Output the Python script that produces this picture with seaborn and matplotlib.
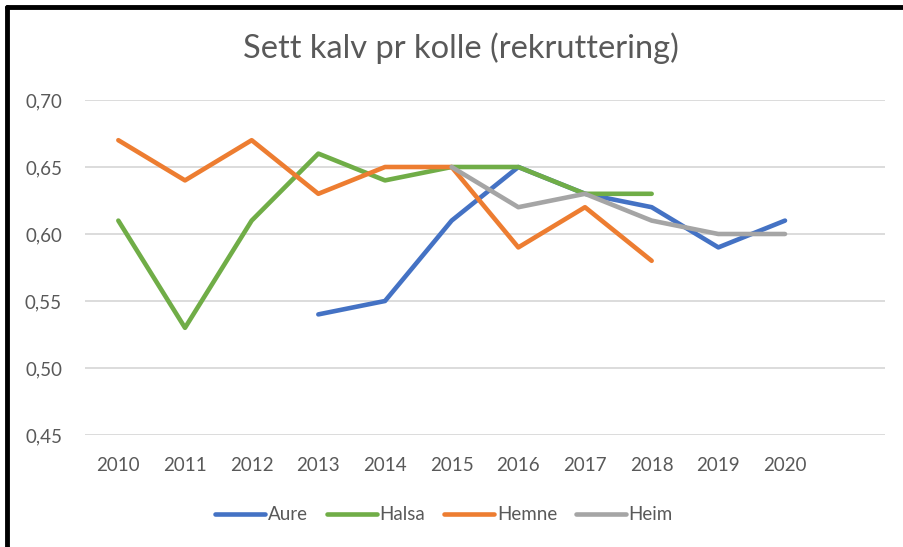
import numpy as np
import pandas as pd
import matplotlib
matplotlib.use("Agg")
import matplotlib.pyplot as plt
import seaborn as sns
from matplotlib.lines import Line2D

years = ["2010", "2011", "2012", "2013", "2014", "2015", "2016", "2017", "2018", "2019", "2020"]
aure = [np.nan, np.nan, np.nan, 0.54, 0.55, 0.61, 0.65, 0.63, 0.62, 0.59, 0.61]
halsa = [0.61, 0.53, 0.61, 0.66, 0.64, 0.65, 0.65, 0.63, 0.63, np.nan, np.nan]
hemne = [0.67, 0.64, 0.67, 0.63, 0.65, 0.65, 0.59, 0.62, 0.58, np.nan, np.nan]
heim = [np.nan, np.nan, np.nan, np.nan, np.nan, 0.65, 0.62, 0.63, 0.61, 0.60, 0.60]
series_names = ["Aure", "Halsa", "Hemne", "Heim"]
colors = ["#4472C4", "#70AD47", "#ED7D31", "#A5A5A5"]
yticks = [0.45, 0.50, 0.55, 0.60, 0.65, 0.70]

sns.set_theme(style="white")
plt.rcParams["font.family"] = ["Lato", "DejaVu Sans"]

rows = []
for name, vals in zip(series_names, [aure, halsa, hemne, heim]):
    for i, v in enumerate(vals):
        if not np.isnan(v):
            rows.append({"idx": i, "value": v, "serie": name})
df = pd.DataFrame(rows)

fig = plt.figure(figsize=(9.04, 5.47), dpi=100)
ax = fig.add_axes([85 / 904, 1 - 435 / 547, 800 / 904, 335 / 547])

for y in yticks:
    ax.axhline(y, color="#D9D9D9", lw=1.3, zorder=0)

sns.lineplot(data=df, x="idx", y="value", hue="serie", hue_order=series_names,
             palette=colors, lw=3.3, ax=ax, legend=False, zorder=3,
             solid_capstyle="round", solid_joinstyle="round")

ax.set_xlim(-0.5, 11.5)
ax.set_ylim(0.45, 0.70)
ax.set_xticks(range(len(years)))
ax.set_xticklabels(years)
ax.set_yticks(yticks)
ax.set_yticklabels([f"{v:.2f}".replace(".", ",") for v in yticks])
ax.tick_params(axis="both", length=0, labelsize=13.5, colors="#595959")
ax.tick_params(axis="x", pad=16)
ax.tick_params(axis="y", pad=16.5)
ax.set_xlabel("")
ax.set_ylabel("")
for s in ax.spines.values():
    s.set_visible(False)

fig.text(461 / 904, 1 - 48 / 547, "Sett kalv pr kolle (rekruttering)",
         ha="center", va="center", fontsize=23.5, color="#595959")

handles = [Line2D([0], [0], color=c, lw=3.3, solid_capstyle="round") for c in colors]
fig.legend(handles, series_names, loc="center", bbox_to_anchor=(444 / 904, 1 - 515 / 547),
           ncol=4, frameon=False, fontsize=13.5, labelcolor="#595959",
           handlelength=2.67, handletextpad=0.15, columnspacing=1.0)

# black frame on top and left
fig.add_artist(Line2D([7 / 904, 7 / 904], [0, 1 - 7 / 547], color="black", lw=3.5,
                      transform=fig.transFigure))
fig.add_artist(Line2D([7 / 904, 1], [1 - 7 / 547, 1 - 7 / 547], color="black", lw=3.5,
                      transform=fig.transFigure))

fig.savefig("out.png", dpi=100, facecolor="white")
